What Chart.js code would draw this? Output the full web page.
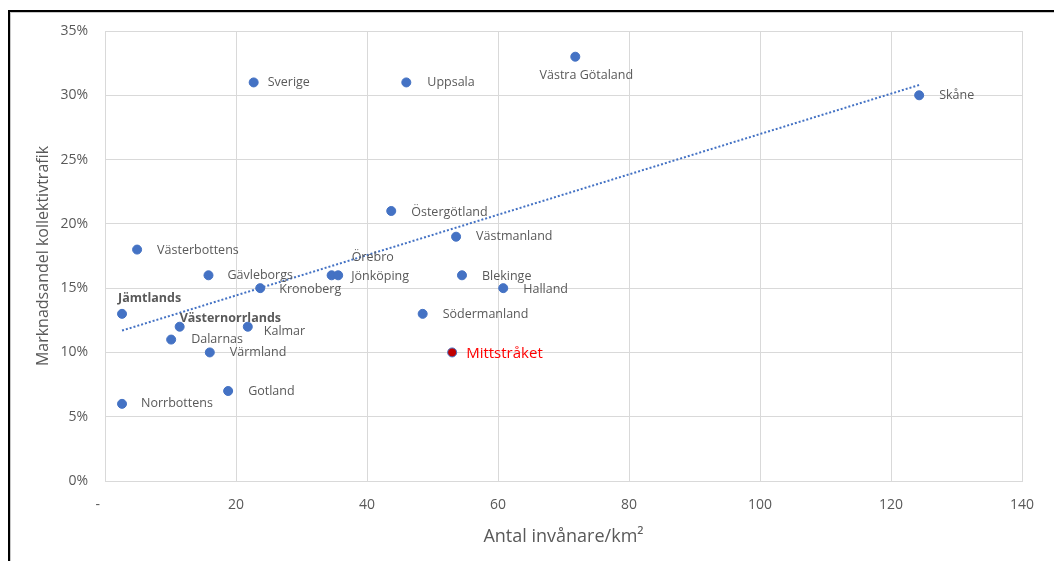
<!DOCTYPE html>
<html>
<head>
<meta charset="utf-8">
<script src="https://cdn.jsdelivr.net/npm/chart.js@4.4.1/dist/chart.umd.min.js"></script>
<style>
  html, body { margin: 0; padding: 0; background: #ffffff; }
  #wrap { width: 1054px; height: 561px; position: relative; }
</style>
</head>
<body>
<div id="wrap"><canvas id="c" width="1054" height="561"></canvas></div>
<script>
// Regions: population density (inhabitants/km²) vs. public transport market share (%)
const regions = [
  'Sverige', 'Uppsala', 'Västra Götaland', 'Skåne', 'Östergötland', 'Västmanland',
  'Örebro', 'Jönköping', 'Blekinge', 'Halland', 'Södermanland', 'Mittstråket',
  'Västerbottens', 'Gävleborgs', 'Kronoberg', 'Jämtlands', 'Västernorrlands', 'Kalmar',
  'Dalarnas', 'Värmland', 'Gotland', 'Norrbottens'
];
const density = [
  22.7, 46.0, 71.8, 124.3, 43.7, 53.6,
  34.6, 35.6, 54.5, 60.8, 48.5, 53.0,
  4.9, 15.8, 23.7, 2.6, 11.4, 21.8,
  10.1, 16.0, 18.8, 2.6
];
const marketShare = [
  31, 31, 33, 30, 21, 19,
  16, 16, 16, 15, 13, 10,
  18, 16, 15, 13, 12, 12,
  11, 10, 7, 6
];
// Linear trend line end points
const trendX = [2.6, 124.3];
const trendY = [11.7, 30.8];

const xTicks = [0, 20, 40, 60, 80, 100, 120, 140];
const yTicks = [0, 5, 10, 15, 20, 25, 30, 35];

// Label placement (pixel offset from the marker) and emphasis
const labelStyle = {
  'Sverige':         { dx: 14, dy: 0 },
  'Uppsala':         { dx: 21, dy: 0 },
  'Västra Götaland': { dx: 11, dy: 19, align: 'center' },
  'Skåne':           { dx: 20, dy: 0 },
  'Östergötland':    { dx: 20, dy: 1 },
  'Västmanland':     { dx: 20, dy: 0 },
  'Örebro':          { dx: 20, dy: -18 },
  'Jönköping':       { dx: 13, dy: 1 },
  'Blekinge':        { dx: 20, dy: 1 },
  'Halland':         { dx: 20, dy: 1 },
  'Södermanland':    { dx: 20, dy: 1 },
  'Mittstråket':     { dx: 14, dy: 1, color: '#FF0000', size: 15 },
  'Västerbottens':   { dx: 20, dy: 1 },
  'Gävleborgs':      { dx: 19, dy: 0 },
  'Kronoberg':       { dx: 19, dy: 1 },
  'Jämtlands':       { dx: -4, dy: -15, bold: true },
  'Västernorrlands': { dx: 0, dy: -8, bold: true },
  'Kalmar':          { dx: 16, dy: 5 },
  'Dalarnas':        { dx: 20, dy: 0 },
  'Värmland':        { dx: 20, dy: 0 },
  'Gotland':         { dx: 20, dy: 0 },
  'Norrbottens':     { dx: 19, dy: 0 }
};

const BLUE = '#4472C4';
const TEXT = '#595959';
const FONT = "'Open Sans', 'Noto Sans', sans-serif";

const points = regions.map((r, i) => ({ x: density[i], y: marketShare[i], name: r }));
const trend = trendX.map((x, i) => ({ x: x, y: trendY[i] }));

const frame = {
  id: 'frame',
  beforeDraw(chart) {
    const ctx = chart.ctx;
    ctx.save();
    ctx.fillStyle = '#ffffff';
    ctx.fillRect(0, 0, chart.width, chart.height);
    ctx.fillStyle = '#000000';
    ctx.fillRect(8, 10, chart.width - 8, 2);
    ctx.fillRect(8, 10, 2, chart.height - 10);
    ctx.fillStyle = '#c8c8c8';
    ctx.fillRect(10, 12, chart.width - 10, 1);
    ctx.fillRect(10, 12, 1, chart.height - 12);
    ctx.restore();
  }
};

const pointLabels = {
  id: 'pointLabels',
  afterDatasetsDraw(chart) {
    const ctx = chart.ctx;
    const xs = chart.scales.x, ys = chart.scales.y;
    ctx.save();
    ctx.textBaseline = 'middle';
    points.forEach(p => {
      const st = labelStyle[p.name] || { dx: 18, dy: 0 };
      const px = xs.getPixelForValue(p.x);
      const py = ys.getPixelForValue(p.y);
      ctx.font = (st.bold ? 'bold ' : '') + (st.size || 12.5) + 'px ' + FONT;
      ctx.fillStyle = st.color || TEXT;
      ctx.textAlign = st.align || 'left';
      ctx.fillText(p.name, px + st.dx, py + st.dy);
    });
    ctx.restore();
  }
};

new Chart(document.getElementById('c'), {
  type: 'scatter',
  data: {
    datasets: [
      {
        label: 'Regioner',
        data: points,
        pointRadius: 4.5,
        pointHoverRadius: 4.5,
        pointBorderWidth: 1,
        pointBackgroundColor: regions.map(r => r === 'Mittstråket' ? '#C00000' : BLUE),
        pointBorderColor: BLUE,
        order: 2
      },
      {
        label: 'Linjär trend',
        type: 'line',
        data: trend,
        showLine: true,
        borderColor: BLUE,
        borderWidth: 2,
        borderDash: [2, 2],
        pointRadius: 0,
        fill: false,
        order: 1
      }
    ]
  },
  options: {
    responsive: false,
    animation: false,
    events: [],
    layout: { padding: { top: 31, right: 32, left: 0, bottom: 0 } },
    plugins: { legend: { display: false }, tooltip: { enabled: false } },
    scales: {
      x: {
        type: 'linear',
        min: xTicks[0],
        max: xTicks[xTicks.length - 1],
        afterBuildTicks(scale) { scale.ticks = xTicks.map(v => ({ value: v })); },
        afterFit(scale) { scale.height = 80; },
        grid: { color: '#D9D9D9', lineWidth: 1, drawTicks: false },
        border: { color: '#D9D9D9', width: 1 },
        ticks: {
          padding: 16,
          color: TEXT,
          font: { family: FONT, size: 14 },
          maxRotation: 0,
          callback: v => v === 0 ? '-    ' : String(v)
        },
        title: {
          display: true,
          text: 'Antal invånare/km²',
          color: TEXT,
          font: { family: FONT, size: 18 },
          padding: { top: 0, bottom: 13 }
        }
      },
      y: {
        type: 'linear',
        min: yTicks[0],
        max: yTicks[yTicks.length - 1],
        afterBuildTicks(scale) { scale.ticks = yTicks.map(v => ({ value: v })); },
        afterFit(scale) { scale.width = 105; },
        grid: { color: '#D9D9D9', lineWidth: 1, drawTicks: false },
        border: { color: '#D9D9D9', width: 1 },
        ticks: {
          padding: 17,
          color: TEXT,
          font: { family: FONT, size: 14 },
          callback: v => v + '%'
        },
        title: {
          display: true,
          text: 'Marknadsandel kollektivtrafik',
          color: TEXT,
          font: { family: FONT, size: 16 },
          padding: { top: 34, bottom: 0 }
        }
      }
    }
  },
  plugins: [frame, pointLabels]
});
</script>
</body>
</html>
